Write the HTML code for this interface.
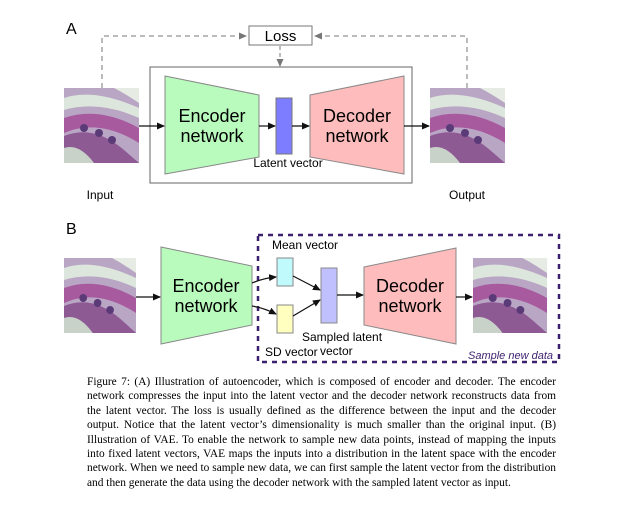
<!DOCTYPE html>
<html><head><meta charset="utf-8"><style>
html,body{margin:0;padding:0;background:#fff;width:643px;height:506px;overflow:hidden;position:relative}
svg{position:absolute;left:0;top:0}
.cap{position:absolute;left:87px;top:375px;width:469px;font-family:"Liberation Serif",serif;font-size:11.4px;line-height:14.4px;color:#000}
.cap div{text-align:justify;text-align-last:justify;white-space:nowrap}
.cap div.l{text-align-last:left}
</style></head><body>
<svg width="643" height="370" viewBox="0 0 643 370" font-family="Liberation Sans, sans-serif">
<defs>
<marker id="ah" markerWidth="8" markerHeight="8" refX="7" refY="4" orient="auto" markerUnits="userSpaceOnUse"><path d="M0,0.5 L8,4 L0,7.5z" fill="#111"/></marker>
<marker id="ag" markerWidth="8" markerHeight="8" refX="7" refY="4" orient="auto" markerUnits="userSpaceOnUse"><path d="M0,0.5 L8,4 L0,7.5z" fill="#777"/></marker>
<g id="hist">
<rect width="75" height="75" fill="#b9a6c4"/>
<path d="M0,10 Q30,0 75,20 L75,30 Q35,12 0,22z" fill="#dde6dc"/>
<path d="M0,30 Q35,18 75,40 L75,55 Q35,30 0,45z" fill="#a75a9e"/>
<path d="M0,48 Q30,36 60,62 L75,75 L0,75z" fill="#8e5a94"/>
<path d="M0,60 Q15,55 30,75 L0,75z" fill="#c9d2c8"/>
<circle cx="20" cy="40" r="4" fill="#5b3a78"/><circle cx="35" cy="45" r="4" fill="#5b3a78"/><circle cx="48" cy="52" r="4" fill="#5b3a78"/>
<path d="M50,0 L75,0 L75,15 Q60,5 50,0z" fill="#e6ece4"/>
</g>
</defs>
<text x="66" y="34" font-size="16">A</text>
<rect x="249" y="26" width="63" height="19" fill="#fff" stroke="#777"/>
<text x="280.5" y="41" font-size="15" text-anchor="middle">Loss</text>
<path d="M102,88 V36 H246" fill="none" stroke="#777" stroke-dasharray="5,4" marker-end="url(#ag)"/>
<path d="M467,88 V36 H315" fill="none" stroke="#777" stroke-dasharray="5,4" marker-end="url(#ag)"/>
<path d="M280,46 V66" fill="none" stroke="#777" stroke-dasharray="4,3" marker-end="url(#ag)"/>
<rect x="150" y="67" width="262" height="116" fill="none" stroke="#666"/>
<use href="#hist" transform="translate(64,88)"/>
<use href="#hist" transform="translate(430,88)"/>
<polygon points="165,76 259,95 259,157 165,174" fill="#b9fbbd" stroke="#888"/>
<polygon points="310,95 404,76 404,174 310,157" fill="#ffbcbc" stroke="#888"/>
<rect x="276" y="98" width="16" height="56" fill="#7d7dff" stroke="#777"/>
<text x="212" y="122" font-size="18" text-anchor="middle">Encoder</text>
<text x="212" y="142" font-size="18" text-anchor="middle">network</text>
<text x="357" y="122" font-size="18" text-anchor="middle">Decoder</text>
<text x="357" y="142" font-size="18" text-anchor="middle">network</text>
<text x="288" y="167" font-size="12" text-anchor="middle">Latent vector</text>
<g stroke="#111" stroke-width="1.2" marker-end="url(#ah)">
<line x1="139" y1="126" x2="164" y2="126"/><line x1="259" y1="126" x2="275" y2="126"/><line x1="292" y1="126" x2="309" y2="126"/><line x1="404" y1="126" x2="429" y2="126"/>
</g>
<text x="100" y="199" font-size="12" text-anchor="middle">Input</text>
<text x="467" y="199" font-size="12" text-anchor="middle">Output</text>

<text x="66" y="234" font-size="16">B</text>
<rect x="258" y="235" width="301" height="127" fill="none" stroke="#3c1f6e" stroke-width="2.5" stroke-dasharray="5,5"/>
<use href="#hist" transform="translate(64,258) scale(0.96,1)"/>
<use href="#hist" transform="translate(473,258) scale(0.987,1)"/>
<polygon points="161,247 252,266 252,325 161,344" fill="#b9fbbd" stroke="#888"/>
<polygon points="364,267 456,248 456,344 364,325" fill="#ffbcbc" stroke="#888"/>
<rect x="277" y="258" width="16" height="28" fill="#c0fafd" stroke="#888"/>
<rect x="277" y="305" width="16" height="28" fill="#ffffc0" stroke="#888"/>
<rect x="321" y="268" width="16" height="55" fill="#c0c0ff" stroke="#888"/>
<text x="206" y="292" font-size="18" text-anchor="middle">Encoder</text>
<text x="206" y="312" font-size="18" text-anchor="middle">network</text>
<text x="410" y="292" font-size="18" text-anchor="middle">Decoder</text>
<text x="410" y="312" font-size="18" text-anchor="middle">network</text>
<g stroke="#111" stroke-width="1.2" marker-end="url(#ah)" fill="none">
<line x1="136" y1="297" x2="160" y2="297"/>
<path d="M252,283 Q264,278 276,277"/><path d="M252,306 Q264,308 276,314"/>
<line x1="293" y1="276" x2="320" y2="290"/><line x1="293" y1="316" x2="320" y2="300"/>
<line x1="337" y1="295" x2="363" y2="295"/><line x1="456" y1="297" x2="472" y2="297"/>
</g>
<text x="272" y="249" font-size="12">Mean vector</text>
<text x="265" y="356" font-size="12">SD vector</text>
<text x="302" y="341" font-size="12">Sampled latent</text>
<text x="320" y="355" font-size="12">vector</text>
<text x="553" y="359" font-size="11" font-style="italic" fill="#3c1f6e" text-anchor="end">Sample new data</text>
</svg>
<div class="cap">
<div>Figure 7: (A) Illustration of autoencoder, which is composed of encoder and decoder. The encoder</div>
<div>network compresses the input into the latent vector and the decoder network reconstructs data from</div>
<div>the latent vector. The loss is usually defined as the difference between the input and the decoder</div>
<div>output. Notice that the latent vector’s dimensionality is much smaller than the original input. (B)</div>
<div>Illustration of VAE. To enable the network to sample new data points, instead of mapping the inputs</div>
<div>into fixed latent vectors, VAE maps the inputs into a distribution in the latent space with the encoder</div>
<div>network. When we need to sample new data, we can first sample the latent vector from the distribution</div>
<div class="l">and then generate the data using the decoder network with the sampled latent vector as input.</div>
</div>
</body></html>
